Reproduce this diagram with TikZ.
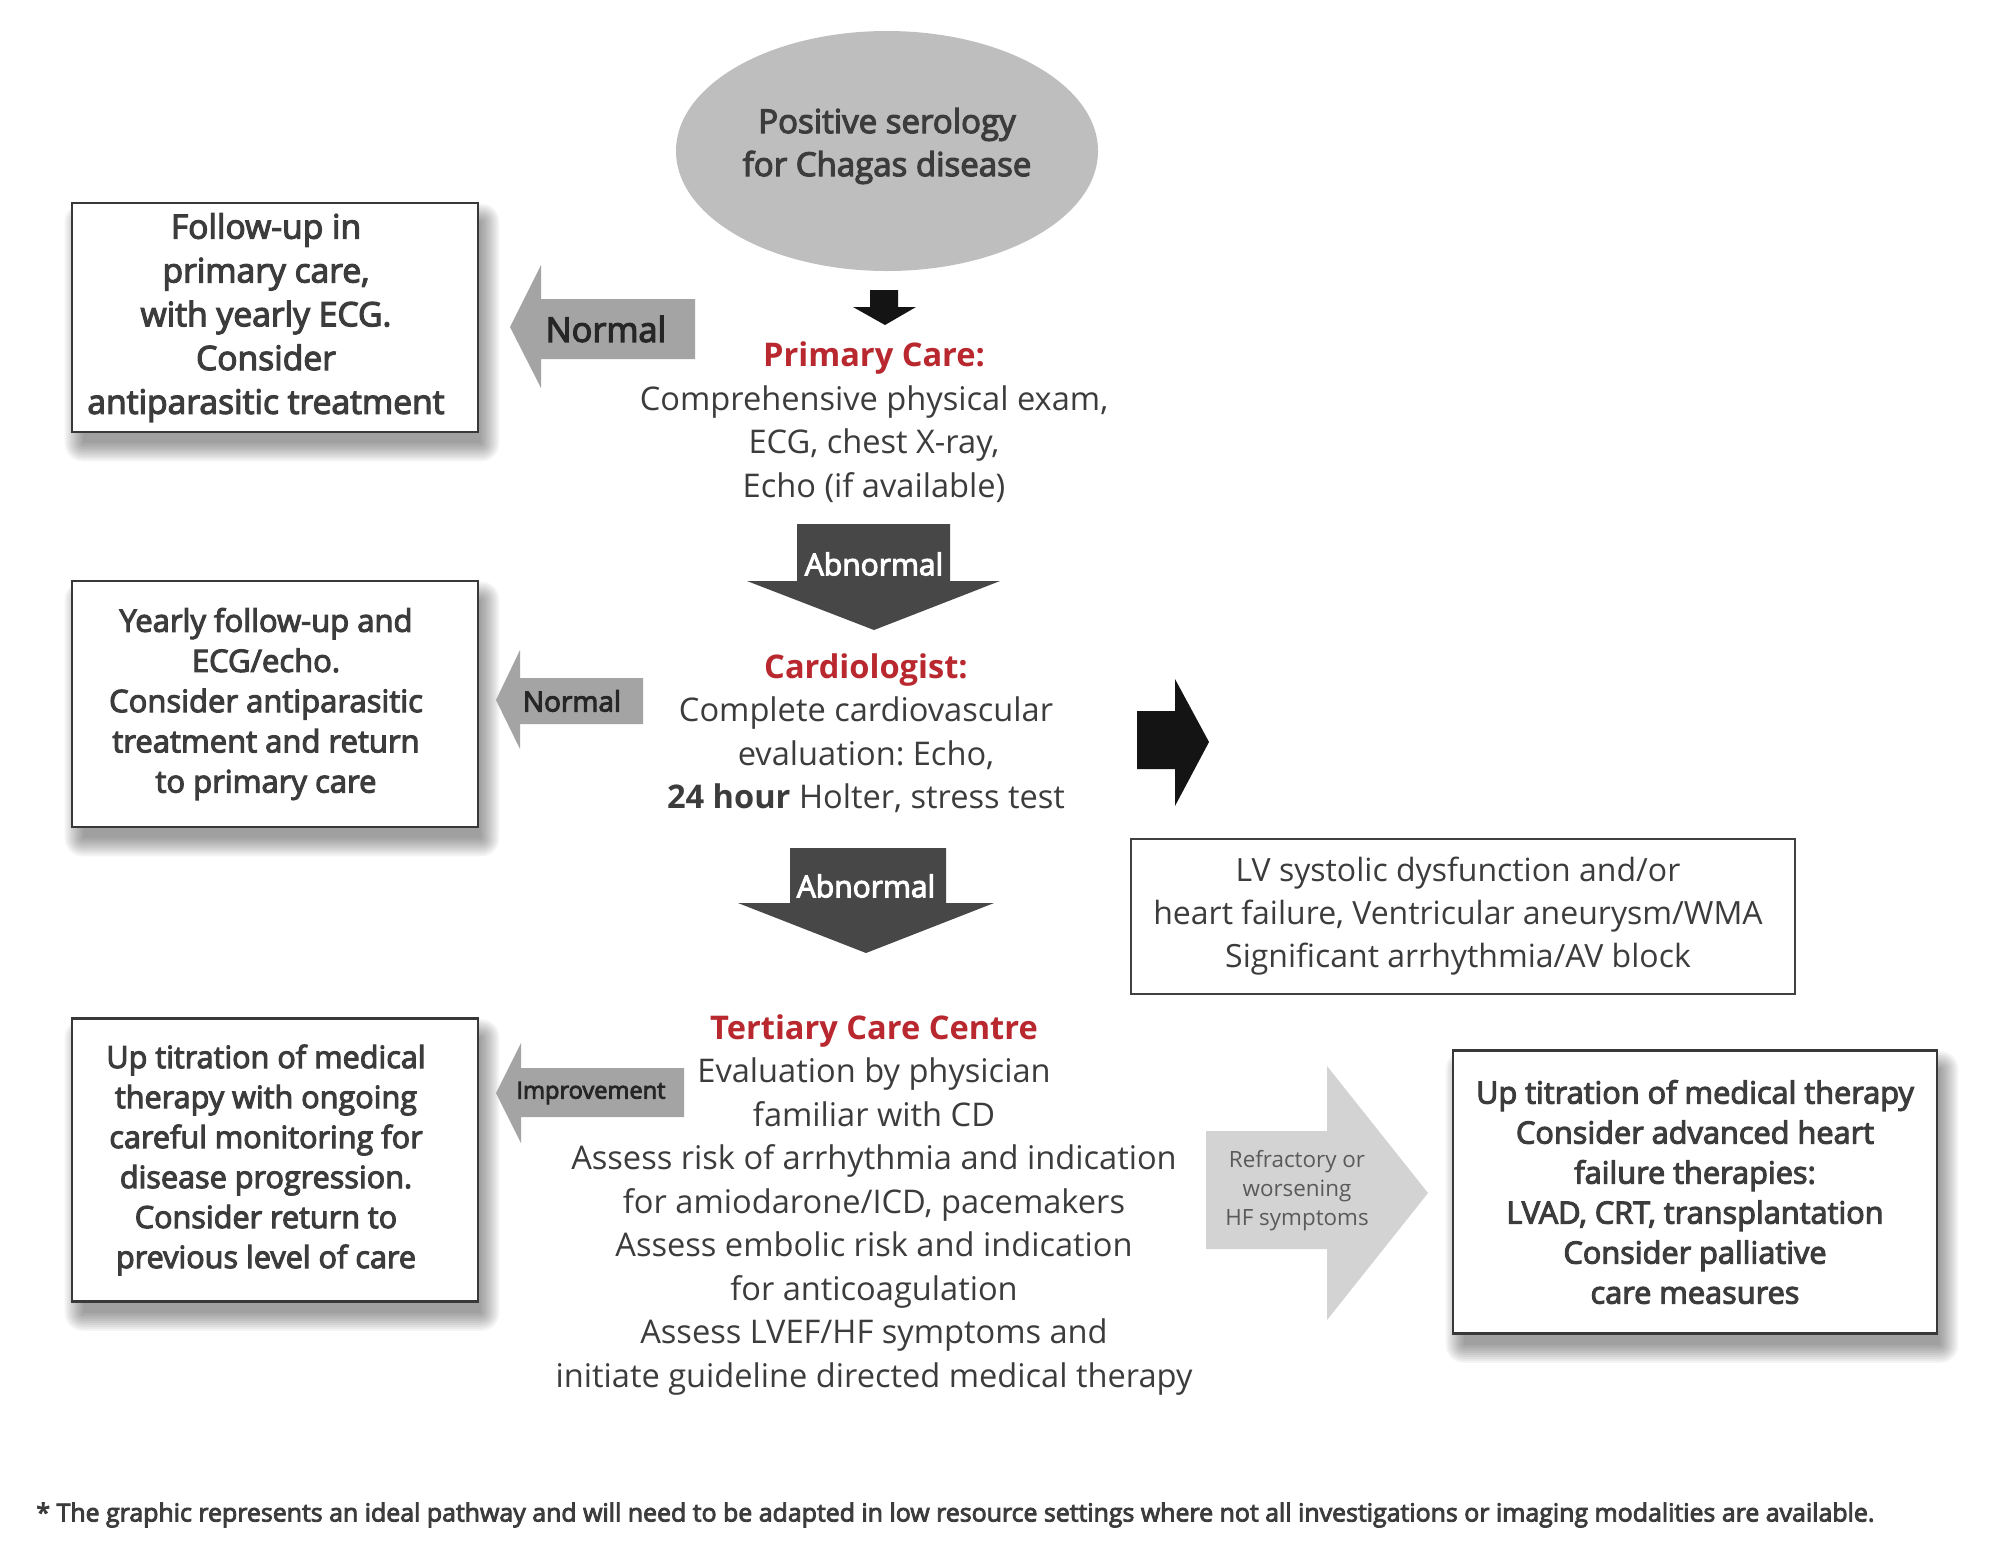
\documentclass[tikz,border=0pt]{standalone}
\usepackage{graphicx}
\usepackage{fontspec}
\setmainfont{Open Sans}
\newfontface\semib{Open Sans}[FakeBold=3.5]
\usetikzlibrary{shapes.geometric}
\definecolor{txt}{HTML}{3C3C3C}
\definecolor{hred}{HTML}{B8282E}
\definecolor{ellg}{HTML}{BEBEBE}
\definecolor{normg}{HTML}{A4A4A4}
\definecolor{abng}{HTML}{474747}
\definecolor{refg}{HTML}{D3D3D3}
\definecolor{reftxt}{HTML}{5A5A5A}
\definecolor{blk}{HTML}{141414}
\newcommand\fsz[2]{\fontsize{#1}{#2}\selectfont}
\pgfdeclarelayer{bg}
\pgfsetlayers{bg,main}
\newcommand\shadebox[1]{%
  \foreach \e in {0,...,9}{%
    \fill[black,opacity=0.045,rounded corners=\e pt]
      ([xshift=6pt-\e pt,yshift=-5pt-\e pt]#1.south west) rectangle
      ([xshift=1pt+\e pt,yshift=-10pt+\e pt]#1.north east);
  }}
\frenchspacing
\begin{document}
\begin{tikzpicture}[x=0.5pt,y=-0.5pt,
  box/.style={draw=black!78, line width=1.3pt, fill=white, inner sep=0pt},
  boxtext/.style={align=center, text=txt, inner sep=0pt},
  lvbox/.style={draw=black!75, line width=1pt, fill=white, inner sep=0pt},
  body/.style={align=center, text=txt, inner sep=0pt, font=\fsz{16.3}{21.75}},
  lab/.style={inner sep=0pt, align=center}]
\useasboundingbox (0,0) rectangle (2000,1554);

% top ellipse
\node[ellipse, fill=ellg, minimum width=211pt, minimum height=120pt, inner sep=0pt] (sero) at (887,151) {};
\node[lab, text=txt, font=\semib\fsz{16.5}{21.5}] (serot) at (887,146) {Positive serology\\for Chagas disease};

% small black arrow
\fill[blk] (870,290) -- (898,290) -- (898,307) -- (916,307) -- (885,325) -- (853,307) -- (870,307) -- cycle;

% primary care
\node[body] (prim) at (874,422) {\textcolor{hred}{\bfseries Primary Care:}\\Comprehensive physical exam,\\ECG, chest X-ray,\\Echo (if available)};

% normal arrow 1
\fill[normg] (695,299) -- (541,299) -- (541,265) -- (510,327) -- (541,388) -- (541,359) -- (695,359) -- cycle;
\node[lab, text=black!85, font=\semib\fsz{17.2}{19}] (norm1) at (606,329) {Normal};

\node[box, minimum width=203pt, minimum height=114.5pt] (b1) at (275,317.5) {};
\node[boxtext, font=\semib\fsz{16.8}{21.9}] (b1t) at (266,317.5)
  {Follow-up in\\primary care,\\with yearly ECG.\\Consider\\antiparasitic treatment};

% abnormal arrow 1
\fill[abng] (797,524) -- (950,524) -- (950,581) -- (1000,581) -- (874,630) -- (747,581) -- (797,581) -- cycle;
\node[lab, text=white, font=\semib\fsz{15}{16}] (abn1) at (874,564) {Abnormal};

% cardiologist
\node[body] (card) at (866,733) {\textcolor{hred}{\bfseries Cardiologist:}\\Complete cardiovascular\\evaluation: Echo,\\{\bfseries 24 hour} Holter, stress test};

% normal arrow 2
\fill[normg] (643,678) -- (520,678) -- (520,650) -- (496,700) -- (520,749) -- (520,724) -- (643,724) -- cycle;
\node[lab, text=black!85, font=\semib\fsz{14}{15}] (norm2) at (572,701) {Normal};

\node[box, minimum width=203pt, minimum height=123pt] (b2) at (275,704) {};
\node[boxtext, font=\semib\fsz{15.5}{20.1}] (b2t) at (266,704)
  {Yearly follow-up and\\ECG/echo.\\Consider antiparasitic\\treatment and return\\to primary care};

% black right arrow
\fill[blk] (1137,711) -- (1175,711) -- (1175,679) -- (1209,742) -- (1175,806) -- (1175,769) -- (1137,769) -- cycle;

\node[lvbox, minimum width=332pt, minimum height=77.5pt] (lv) at (1463,916.5) {};
\node[boxtext, font=\fsz{16}{21.5}] (lvt) at (1458,916.5)
  {LV systolic dysfunction and/or\\heart failure, Ventricular aneurysm/WMA\\Significant arrhythmia/AV block};

% abnormal arrow 2
\fill[abng] (790,848) -- (946,848) -- (946,903) -- (994,903) -- (866,953) -- (738,903) -- (790,903) -- cycle;
\node[lab, text=white, font=\semib\fsz{15}{16}] (abn2) at (866,886) {Abnormal};

% tertiary
\node[body] (tert) at (874,1205) {\textcolor{hred}{\bfseries Tertiary Care Centre}\\Evaluation by physician\\familiar with CD\\Assess risk of arrhythmia and indication\\for amiodarone/ICD, pacemakers\\Assess embolic risk and indication\\for anticoagulation\\Assess LVEF/HF symptoms and\\initiate guideline directed medical therapy};

% improvement arrow
\fill[normg] (684,1068) -- (521,1068) -- (521,1043) -- (496,1093) -- (521,1143) -- (521,1117) -- (684,1117) -- cycle;
\node[lab, text=black!85, font=\semib\fsz{11.8}{13}] (impr) at (591,1093) {Improvement};

\node[box, minimum width=203pt, minimum height=141.5pt] (b3) at (275,1160) {};
\node[boxtext, font=\semib\fsz{15.3}{20}] (b3t) at (266,1160)
  {Up titration of medical\\therapy with ongoing\\careful monitoring for\\disease progression.\\Consider return to\\previous level of care};

% refractory arrow
\fill[refg] (1206,1131) -- (1327,1131) -- (1327,1066) -- (1428,1193) -- (1327,1320) -- (1327,1249) -- (1206,1249) -- cycle;
\node[lab, text=reftxt, font=\fsz{11.2}{14.5}] (refr) at (1297,1191) {Refractory or\\worsening\\HF symptoms};

\node[box, minimum width=242pt, minimum height=141.5pt] (rb) at (1695,1192) {};
\node[boxtext, font=\semib\fsz{15.35}{20}] (rbt) at (1695,1192)
  {Up titration of medical therapy\\Consider advanced heart\\failure therapies:\\LVAD, CRT, transplantation\\Consider palliative\\care measures};

% white page and soft shadows behind boxes
\begin{pgfonlayer}{bg}
  \fill[white] (0,0) rectangle (2000,1554);
  \shadebox{b1}
  \shadebox{b2}
  \shadebox{b3}
  \shadebox{rb}
\end{pgfonlayer}

% footnote
\node[anchor=west, inner sep=0pt, text=txt, font=\semib\fsz{12}{14}] (foot) at (36,1515)
  {\resizebox{919pt}{!}{* The graphic represents an ideal pathway and will need to be adapted in low resource settings where not all investigations or imaging modalities are available.}};
\end{tikzpicture}
\end{document}
